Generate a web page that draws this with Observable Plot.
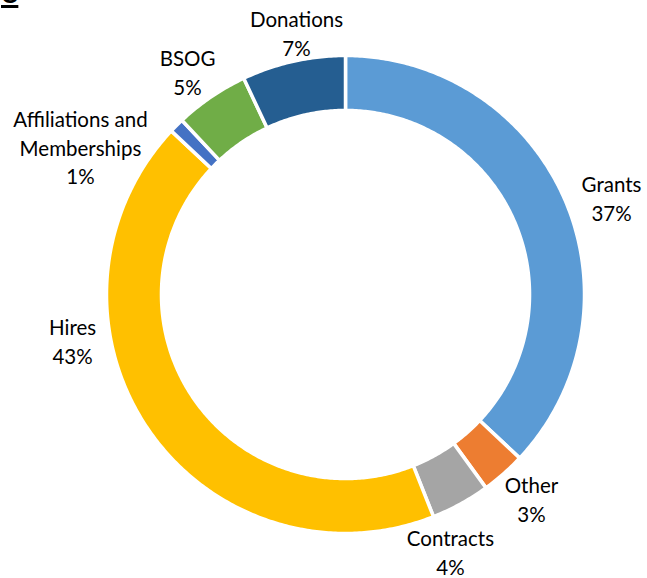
<!DOCTYPE html>
<html><head><meta charset="utf-8">
<script src="https://cdn.jsdelivr.net/npm/d3@7"></script>
<script src="https://cdn.jsdelivr.net/npm/@observablehq/plot@0.6"></script>
<style>
body{margin:0;background:#fff;}
#wrap{position:relative;width:647px;height:578px;overflow:hidden;}
#tag{position:absolute;left:1px;top:-19px;font:bold 24px "Liberation Sans",Arial,sans-serif;text-decoration:underline;text-decoration-thickness:3px;text-underline-offset:2px;color:#000;}
</style>
</head><body>
<div id="wrap"><div id="tag">C</div><div id="chart"></div></div>
<script>
// Data
const categories = ["Grants", "Other", "Contracts", "Hires", "Affiliations and Memberships", "BSOG", "Donations"];
const values = [37, 3, 4, 43, 1, 5, 7];
const labelLines = ["Grants", "Other", "Contracts", "Hires", "Affiliations and\nMemberships", "BSOG", "Donations"];
const colors = ["#5B9BD5", "#ED7D31", "#A5A5A5", "#FFC000", "#4472C4", "#70AD47", "#255E91"];
// Label anchor positions (layout, in radius units)
const labelX = [1.113, 0.778, 0.439, -1.142, -1.109, -0.661, -0.205];
const labelY = [0.406, -0.854, -1.075, -0.192, 0.619, 0.933, 1.098];

const innerR = 0.77, outerR = 1;
const total = d3.sum(values);
const pie = d3.pie().sort(null).startAngle(0).endAngle(2 * Math.PI)(values);

const pts = [];
pie.forEach((p, i) => {
  const n = Math.max(4, Math.ceil((p.endAngle - p.startAngle) / 0.01));
  for (let k = 0; k <= n; k++) {
    const a = p.startAngle + (p.endAngle - p.startAngle) * k / n;
    pts.push({cat: categories[i], x: outerR * Math.sin(a), y: outerR * Math.cos(a)});
  }
  for (let k = n; k >= 0; k--) {
    const a = p.startAngle + (p.endAngle - p.startAngle) * k / n;
    pts.push({cat: categories[i], x: innerR * Math.sin(a), y: innerR * Math.cos(a)});
  }
});

const labels = categories.map((c, i) => ({
  x: labelX[i], y: labelY[i],
  text: labelLines[i] + "\n" + Math.round(values[i] / total * 100) + "%"
}));

const chart = Plot.plot({
  width: 647, height: 578,
  marginLeft: 106, marginRight: 63, marginTop: 55, marginBottom: 45,
  x: {domain: [-1, 1], axis: null},
  y: {domain: [-1, 1], axis: null},
  color: {domain: categories, range: colors},
  style: {background: "#fff", overflow: "visible"},
  marks: [
    Plot.line(pts, {x: "x", y: "y", z: "cat", fill: "cat", stroke: "#fff", strokeWidth: 3.5, curve: "linear-closed"}),
    Plot.text(labels, {x: "x", y: "y", text: "text", fontSize: 20.5, lineHeight: 1.4, fill: "#000", textAnchor: "middle",
      fontFamily: "Lato, 'Open Sans', sans-serif"})
  ]
});
document.getElementById("chart").appendChild(chart);
</script>
</body></html>
